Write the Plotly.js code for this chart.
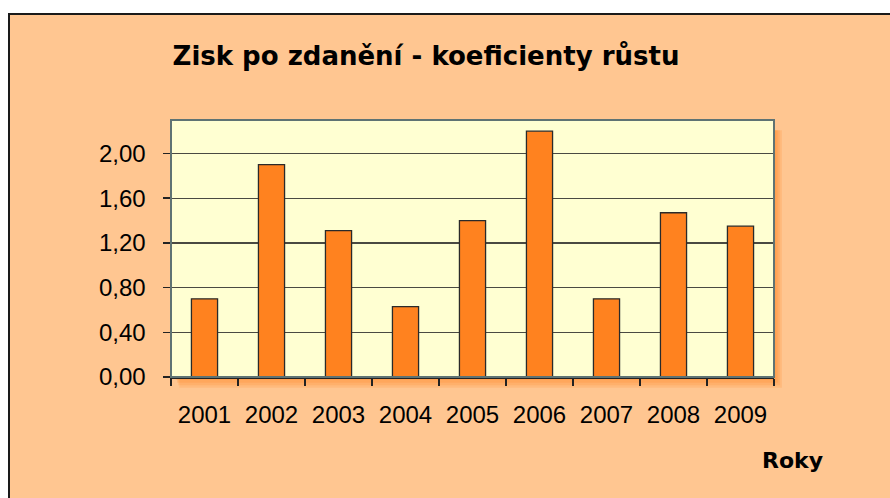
<!DOCTYPE html>
<html>
<head>
<meta charset="utf-8">
<script src="https://cdn.plot.ly/plotly-3.0.1.min.js"></script>
<style>
  html, body { margin: 0; padding: 0; background: #ffffff; overflow: hidden; }
  #frame { position: absolute; left: 8px; top: 13px; width: 900px; height: 500px;
           border-left: 2px solid #1a1a1a; border-top: 2px solid #1a1a1a; background: #FFC691; }
  #chart { position: absolute; left: 0; top: 0; width: 880px; height: 483px; }
</style>
</head>
<body>
<div id="frame"><div id="chart"></div></div>
<script>
const years = ['2001', '2002', '2003', '2004', '2005', '2006', '2007', '2008', '2009'];
const growth = [0.70, 1.90, 1.31, 0.63, 1.40, 2.20, 0.70, 1.47, 1.35];
const yTicks = [0, 0.4, 0.8, 1.2, 1.6, 2.0];

const shapes = [];
for (let i = 0; i < 4; i++) {
  shapes.push({
    type: 'rect', xref: 'paper', yref: 'paper', layer: 'below',
    x0: 0.008 + i * 0.002, x1: 1.004 + i * 0.003,
    y0: -0.012 - i * 0.01, y1: 0.96,
    fillcolor: '#FF7A10', opacity: 0.16, line: { width: 0 }
  });
}
shapes.push({
  type: 'rect', xref: 'paper', yref: 'paper', layer: 'below',
  x0: 0, x1: 1, y0: 0, y1: 1,
  fillcolor: '#FFFFD2', line: { width: 0 }
});
shapes.push({
  type: 'rect', xref: 'paper', yref: 'paper', layer: 'above',
  x0: 0, x1: 1, y0: 0, y1: 1,
  line: { color: '#5f7373', width: 2 }, fillcolor: 'rgba(0,0,0,0)'
});

const data = [{
  type: 'bar',
  x: years,
  y: growth,
  marker: { color: '#FF821F', line: { color: '#2a2a2a', width: 1.3 } },
  hoverinfo: 'skip'
}];

const layout = {
  width: 880, height: 483,
  margin: { l: 161, r: 116, t: 105, b: 121 },
  paper_bgcolor: 'rgba(0,0,0,0)',
  plot_bgcolor: 'rgba(0,0,0,0)',
  separators: ', ',
  bargap: 0.61,
  showlegend: false,
  title: {
    text: 'Zisk po zdanění - koeficienty růstu',
    font: { family: 'DejaVu Sans', size: 26, color: '#000', weight: 'bold' },
    xref: 'container', yref: 'container',
    x: 0.4727, xanchor: 'center', y: 0.916, yanchor: 'middle'
  },
  xaxis: {
    type: 'category',
    tickson: 'boundaries',
    ticks: 'outside', ticklen: 7, tickwidth: 1.5, tickcolor: '#222',
    showline: true, linecolor: '#222', linewidth: 1.5,
    showgrid: false,
    tickfont: { family: 'Liberation Sans', size: 24, color: '#000' },
    ticklabelstandoff: 16
  },
  yaxis: {
    range: [0, 2.3],
    tickvals: yTicks,
    tickformat: '.2f',
    ticks: 'outside', ticklen: 7, tickwidth: 1.5, tickcolor: '#222',
    showline: true, linecolor: '#222', linewidth: 1.5,
    showgrid: true, gridcolor: '#4a4a42', gridwidth: 1.3,
    zeroline: false,
    tickfont: { family: 'Liberation Sans', size: 24, color: '#000' },
    ticklabelstandoff: 12
  },
  shapes: shapes,
  annotations: [{
    text: 'Roky', showarrow: false,
    xref: 'paper', yref: 'paper', x: 1.031, y: -0.323,
    xanchor: 'center', yanchor: 'middle',
    font: { family: 'DejaVu Sans', size: 22, color: '#000', weight: 'bold' }
  }]
};

Plotly.newPlot('chart', data, layout, { displayModeBar: false, staticPlot: true });
</script>
</body>
</html>
